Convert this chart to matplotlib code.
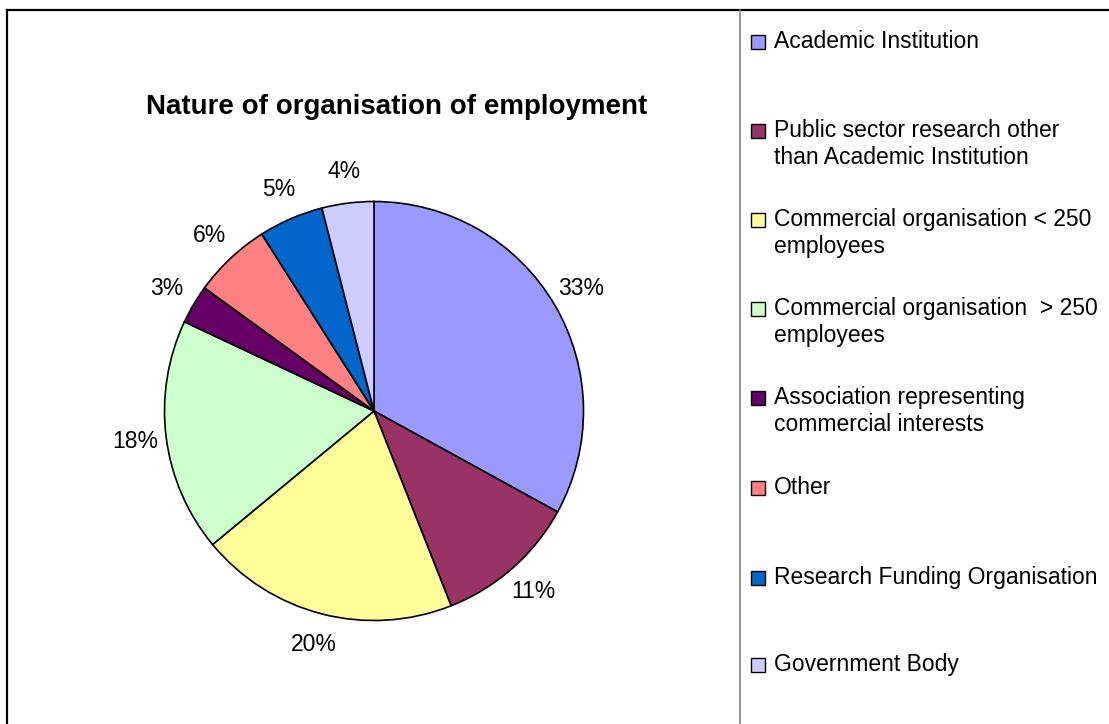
import matplotlib
matplotlib.use("Agg")
import matplotlib.pyplot as plt
from matplotlib.patches import Rectangle
from matplotlib.lines import Line2D

plt.rcParams["font.family"] = ["Liberation Sans", "DejaVu Sans"]

title = "Nature of organisation of employment"
categories = [
    "Academic Institution",
    "Public sector research other\nthan Academic Institution",
    "Commercial organisation < 250\nemployees",
    "Commercial organisation  > 250\nemployees",
    "Association representing\ncommercial interests",
    "Other",
    "Research Funding Organisation",
    "Government Body",
]
shares = [33, 11, 20, 18, 3, 6, 5, 4]
colors = ["#9999FF", "#993366", "#FFFF99", "#CCFFCC",
          "#660066", "#FF8080", "#0066CC", "#CCCCFF"]

W, H = 1109, 724
fig = plt.figure(figsize=(W / 100, H / 100), dpi=100)

# outer chart frame and divider before the legend column
fig.add_artist(Line2D([7 / W, 7 / W], [0, 1 - 10 / H], transform=fig.transFigure,
                      color="black", lw=1.6))
fig.add_artist(Line2D([7 / W, 1], [1 - 10 / H, 1 - 10 / H], transform=fig.transFigure,
                      color="black", lw=1.6))
fig.add_artist(Line2D([740 / W, 740 / W], [0, 1 - 10 / H], transform=fig.transFigure,
                      color="#808080", lw=1.2))

# pie area
cx, cy, r = 374, 411, 209.5
ax = fig.add_axes([(cx - r) / W, (H - cy - r) / H, 2 * r / W, 2 * r / H])
wedges, texts = ax.pie(
    shares, colors=colors, startangle=90, counterclock=False,
    labels=[f"{v}%" for v in shares], labeldistance=1.15,
    wedgeprops=dict(edgecolor="black", linewidth=1.2),
    textprops=dict(fontsize=16.5, color="black"),
)
for t in texts:
    t.set_ha("center")
    t.set_va("center")
ax.set_xlim(-1, 1)
ax.set_ylim(-1, 1)
ax.set_aspect("equal")
ax.axis("off")

fig.text(397 / W, 1 - 107 / H, title, ha="center", va="center",
         fontsize=20, fontweight="bold")

# legend column
label_rows = [42, 131, 220, 309, 398, 488, 578, 665]
for y, lab, col in zip(label_rows, categories, colors):
    fig.add_artist(Rectangle((751 / W, 1 - (y + 7) / H), 14 / W, 14 / H,
                             transform=fig.transFigure, facecolor=col,
                             edgecolor="black", lw=1.0))
    fig.text(774 / W, 1 - (y - 12) / H, lab, ha="left", va="top",
             fontsize=16.5, linespacing=1.2)

fig.savefig("out.png", dpi=100, facecolor="white")
